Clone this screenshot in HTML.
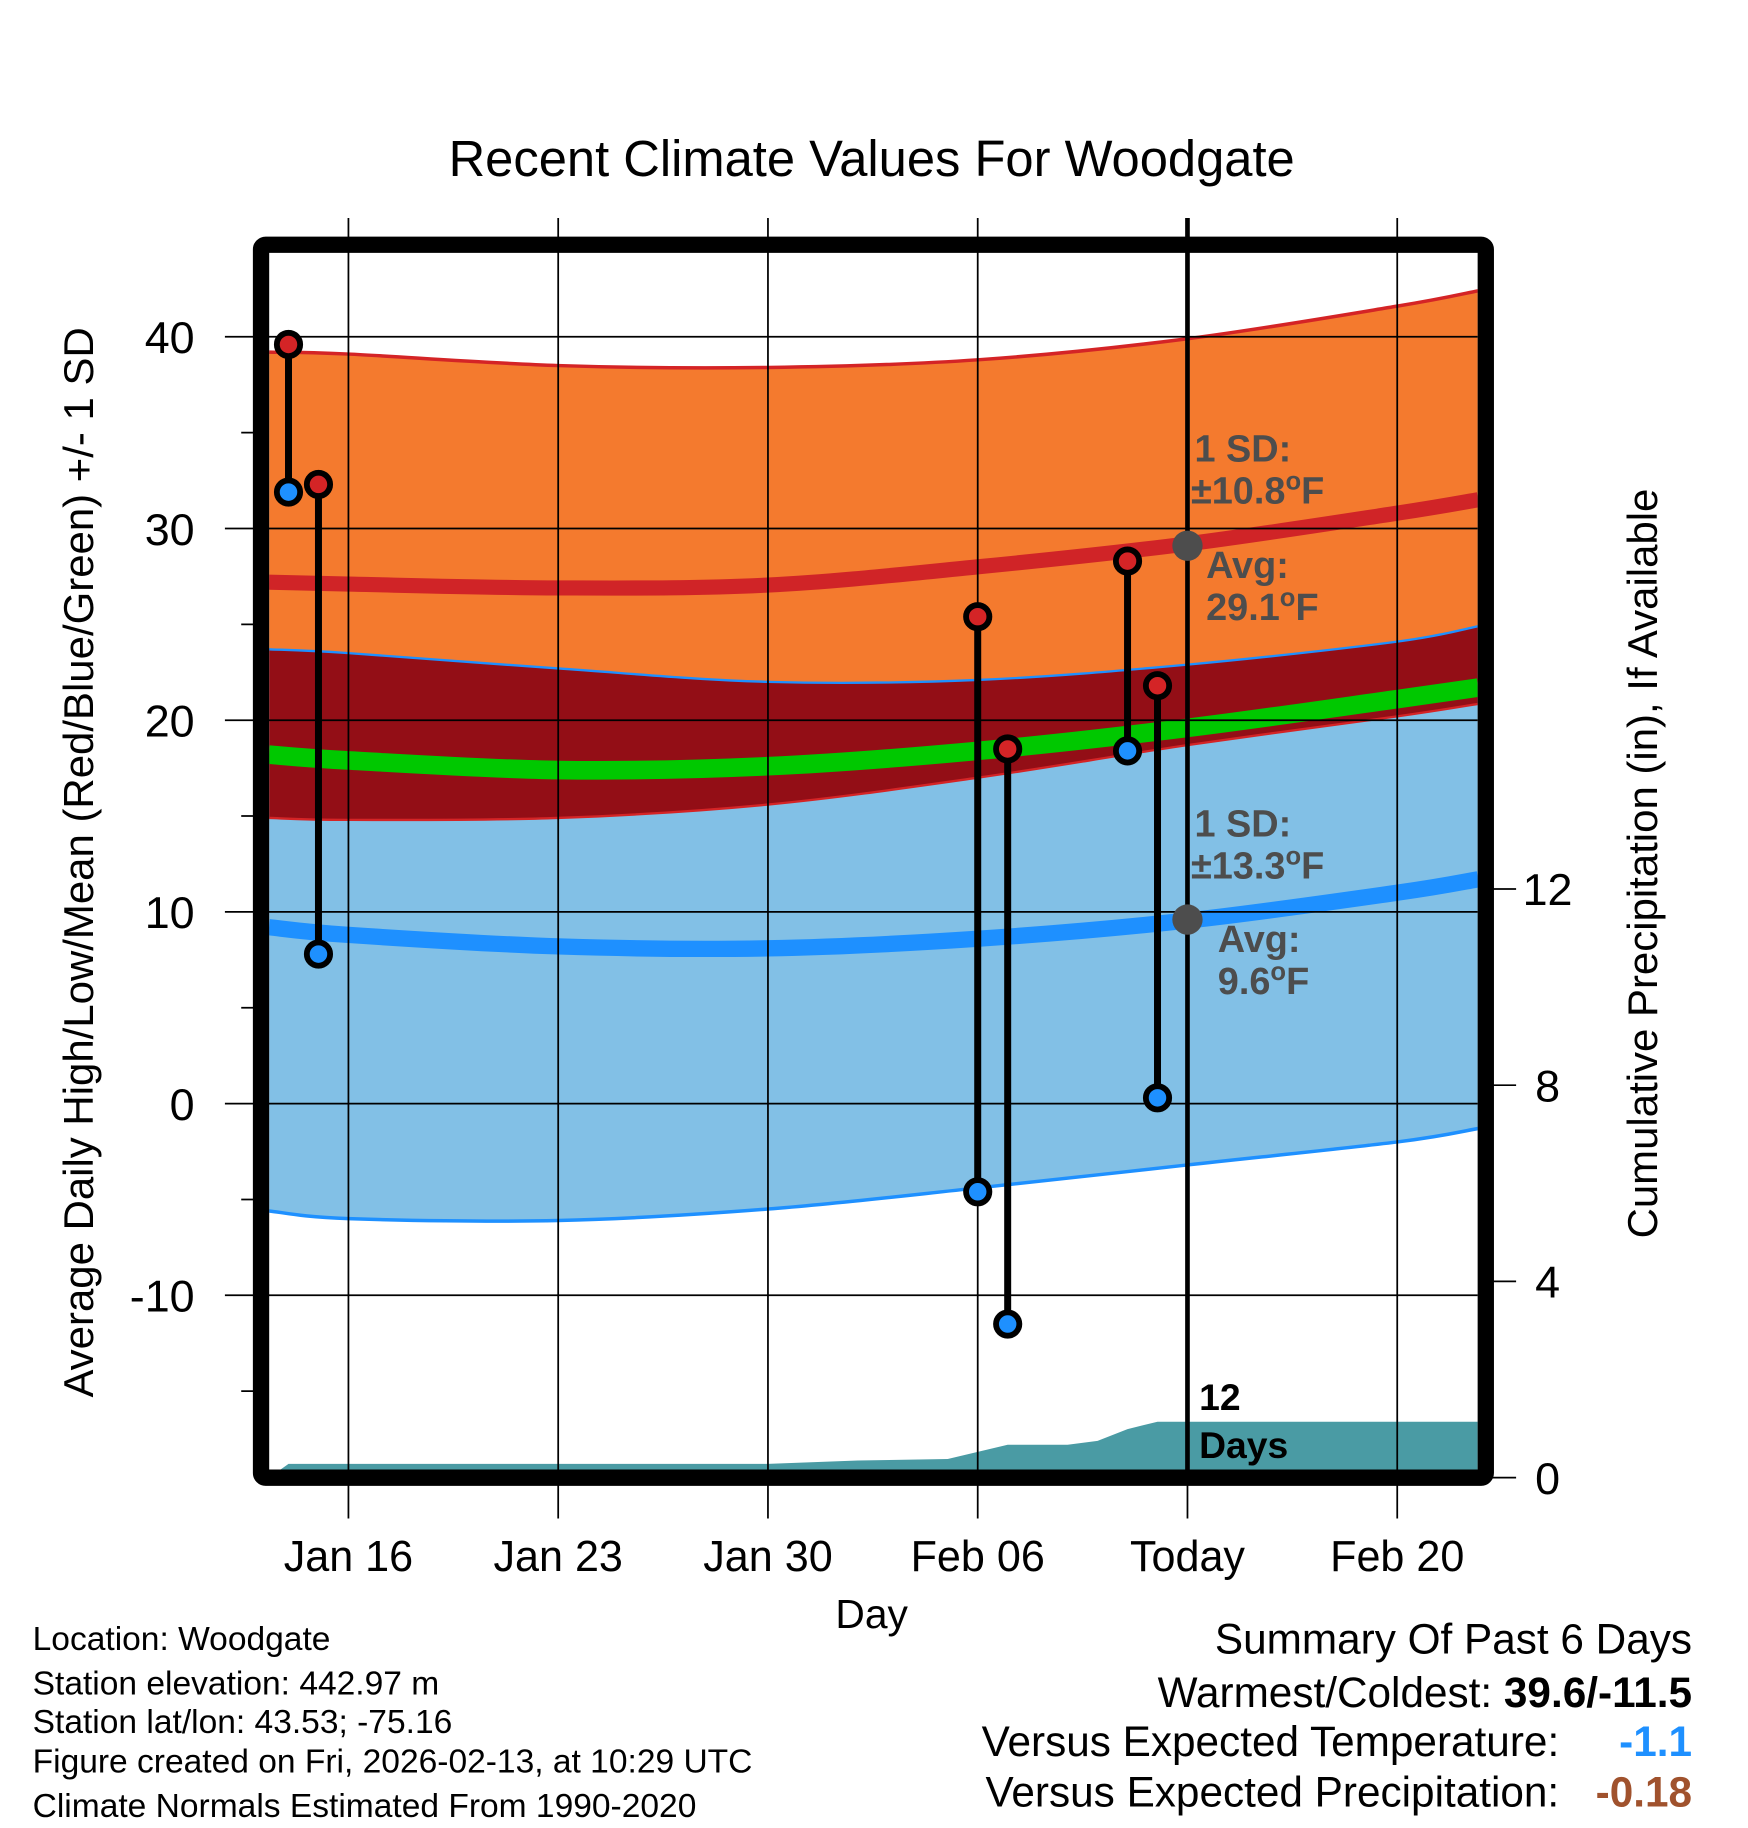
<!DOCTYPE html>
<html><head><meta charset="utf-8"><style>
html,body{margin:0;padding:0;background:#fff}
svg{display:block;font-family:"Liberation Sans",Arial,sans-serif}
</style></head><body>
<svg id="chart" xmlns="http://www.w3.org/2000/svg" width="1748" height="1828" viewBox="0 0 1500 1568.6">
<text x="748" y="151" font-size="43.5" text-anchor="middle">Recent Climate Values For Woodgate</text>
<g id="plot"></g>
<text x="748" y="1397" font-size="35" text-anchor="middle">Day</text>
<text transform="translate(80,740) rotate(-90)" font-size="36" text-anchor="middle">Average Daily High/Low/Mean (Red/Blue/Green) +/- 1 SD</text>
<text transform="translate(1422,741) rotate(-90)" font-size="36" text-anchor="middle">Cumulative Precipitation (in), If Available</text>
<g font-size="28.8">
<text x="28" y="1416">Location: Woodgate</text>
<text x="28" y="1454">Station elevation: 442.97 m</text>
<text x="28" y="1487">Station lat/lon: 43.53; -75.16</text>
<text x="28" y="1521">Figure created on Fri, 2026-02-13, at 10:29 UTC</text>
<text x="28" y="1559">Climate Normals Estimated From 1990-2020</text>
</g>
<g font-size="36.3" text-anchor="end">
<text x="1452" y="1419">Summary Of Past 6 Days</text>
<text x="1452" y="1465">Warmest/Coldest: <tspan font-weight="bold">39.6/-11.5</tspan></text>
<text x="1338" y="1507">Versus Expected Temperature:</text>
<text x="1452" y="1507" fill="#1e90ff" font-weight="bold">-1.1</text>
<text x="1338" y="1550">Versus Expected Precipitation:</text>
<text x="1452" y="1550" fill="#a0522d" font-weight="bold">-0.18</text>
</g>
</svg>
<script>
// days relative to Jan 16
const normDays = [-2.65, 0, 7, 14, 21, 28, 35, 37.7];
const highPlusSD = [39.2, 39.1, 38.5, 38.4, 38.8, 39.9, 41.6, 42.4];
const highAvg = [27.2, 27.1, 26.9, 27.05, 28.0, 29.2, 30.8, 31.5];
const highMinusSD = [23.7, 23.5, 22.7, 22.0, 22.1, 22.9, 24.1, 24.9];
const meanAvg = [18.2, 17.9, 17.4, 17.6, 18.4, 19.6, 21.1, 21.7];
const lowPlusSD = [14.9, 14.8, 14.9, 15.6, 17.0, 18.7, 20.2, 20.85];
const lowAvg = [9.2, 8.8, 8.2, 8.1, 8.6, 9.55, 11.0, 11.7];
const lowMinusSD = [-5.6, -6.0, -6.1, -5.5, -4.4, -3.2, -2.0, -1.3];
const obsDays = [-2, -1, 21, 22, 26, 27];
const obsHigh = [39.6, 32.3, 25.4, 18.5, 28.3, 21.8];
const obsLow = [31.9, 7.8, -4.6, -11.5, 18.4, 0.3];
const precipDays = [-2.65, -2, 14, 17, 20, 22, 24, 25, 26, 27, 37.7];
const precipVals = [0, 0.28, 0.28, 0.35, 0.38, 0.67, 0.67, 0.75, 0.99, 1.14, 1.14];
const xTickDays = [0, 7, 14, 21, 28, 35];
const xTickLabels = ["Jan 16", "Jan 23", "Jan 30", "Feb 06", "Today", "Feb 20"];
const yTicks = [-10, 0, 10, 20, 30, 40];
const y2Ticks = [0, 4, 8, 12];
const todayDay = 28;
const todayHigh = 29.1, todayLow = 9.6;

const L = 231, R = 1268, T = 217, B = 1261;
const X = d => 299 + d * (180 / 7);
const Y = v => 947 - v * 16.45;
const Y2 = p => 1268 - p * 42.1;
const NS = "http://www.w3.org/2000/svg";
const g = document.getElementById('plot');
function mk(tag, at, parent) {
  const e = document.createElementNS(NS, tag);
  for (const k in at) e.setAttribute(k, at[k]);
  (parent || g).appendChild(e);
  return e;
}
function pts(days, vals) { return days.map((d, i) => [X(d), Y(vals[i])]); }
function smooth(p) {
  let s = "M" + p[0][0] + "," + p[0][1];
  for (let i = 0; i < p.length - 1; i++) {
    const p0 = p[Math.max(0, i - 1)], p1 = p[i], p2 = p[i + 1], p3 = p[Math.min(p.length - 1, i + 2)];
    const c1x = p1[0] + (p2[0] - p0[0]) / 6, c1y = p1[1] + (p2[1] - p0[1]) / 6;
    const c2x = p2[0] - (p3[0] - p1[0]) / 6, c2y = p2[1] - (p3[1] - p1[1]) / 6;
    s += " C" + c1x + "," + c1y + " " + c2x + "," + c2y + " " + p2[0] + "," + p2[1];
  }
  return s;
}
function smoothRev(p) { return smooth(p.slice().reverse()).replace(/^M/, "L"); }
const clip = mk('clipPath', { id: 'pc' });
mk('rect', { x: L, y: T, width: R - L, height: B - T }, clip);
const gp = mk('g', { 'clip-path': 'url(#pc)' });
function mk2(tag, at) { return mk(tag, at, gp); }
function band2(top, bot, fill, name) {
  const e = mk2('path', { d: smooth(pts(normDays, top)) + " " + smoothRev(pts(normDays, bot)) + " Z", fill: fill });
  
  
}
function line2(vals, color, w, name) {
  const e = mk2('path', { d: smooth(pts(normDays, vals)), fill: 'none', stroke: color, 'stroke-width': w });
  
  
}
band2(highPlusSD, highMinusSD, '#f47a2e', 'high-sd-band');
band2(lowPlusSD, lowMinusSD, '#82c0e6', 'low-sd-band');
band2(highMinusSD, lowPlusSD, '#930e16', 'overlap-band');
line2(highPlusSD, '#d42426', 3, 'high-plus-sd-line');
line2(highMinusSD, '#1e90ff', 2, 'high-minus-sd-line');
line2(lowPlusSD, '#d42426', 2, 'low-plus-sd-line');
line2(lowMinusSD, '#1e90ff', 3, 'low-minus-sd-line');
line2(highAvg, '#d02427', 13, 'high-avg-line');
line2(meanAvg, '#00c800', 16, 'mean-line');
line2(lowAvg, '#1e90ff', 14, 'low-avg-line');
let pdPath = "M" + X(precipDays[0]) + "," + Y2(0);
precipDays.forEach((dd, i) => { pdPath += " L" + X(dd) + "," + Y2(precipVals[i]); });
pdPath += " L" + X(precipDays[precipDays.length - 1]) + "," + Y2(0) + " Z";
const pa = mk2('path', { d: pdPath, fill: '#4a9ba4' });



xTickDays.forEach((d, i) => {
  const l = mk('line', { x1: X(d), x2: X(d), y1: 187, y2: 1303, stroke: '#000', 'stroke-width': 1.5 });
  
  
  const t = mk('text', { x: X(d), y: 1348, 'font-size': 37, 'text-anchor': 'middle' });
  t.textContent = xTickLabels[i];
  
  
});
yTicks.forEach(v => {
  const l = mk('line', { x1: 193, x2: R, y1: Y(v), y2: Y(v), stroke: '#000', 'stroke-width': 1.5 });
  
  
  const t = mk('text', { x: 167, y: Y(v) + 14, 'font-size': 38.5, 'text-anchor': 'end' });
  t.textContent = v;
  
  
});
[-15, -5, 5, 15, 25, 35].forEach(v => {
  const l = mk('line', { x1: 207, x2: 224, y1: Y(v), y2: Y(v), stroke: '#000', 'stroke-width': 1.5 });
  
  
});
y2Ticks.forEach(p => {
  const l = mk('line', { x1: 1275, x2: 1301, y1: Y2(p), y2: Y2(p), stroke: '#000', 'stroke-width': 1.5 });
  
  
  const t = mk('text', { x: 1328, y: Y2(p) + 14, 'font-size': 38.5, 'text-anchor': 'middle' });
  t.textContent = p;
  
  
});
const tl = mk('line', { x1: X(todayDay), x2: X(todayDay), y1: 187, y2: 1268, stroke: '#000', 'stroke-width': 4 });


obsDays.forEach((d, i) => {
  const s = mk('line', { x1: X(d), x2: X(d), y1: Y(obsHigh[i]), y2: Y(obsLow[i]), stroke: '#000', 'stroke-width': 6 });
  
  
  const h = mk('circle', { cx: X(d), cy: Y(obsHigh[i]), r: 10, fill: '#d42426', stroke: '#000', 'stroke-width': 5 });
  
  
  const lo = mk('circle', { cx: X(d), cy: Y(obsLow[i]), r: 10, fill: '#1e90ff', stroke: '#000', 'stroke-width': 5 });
  
  
});
const d1 = mk('circle', { cx: X(todayDay), cy: Y(todayHigh), r: 13, fill: '#4d4d4d' });


const d2 = mk('circle', { cx: X(todayDay), cy: Y(todayLow), r: 13, fill: '#4d4d4d' });


const box = mk('rect', { x: 224, y: 210, width: 1051, height: 1058, rx: 4, fill: 'none', stroke: '#000', 'stroke-width': 14 });


const ann = mk('g', { fill: '#4d4d4d', 'font-size': 32.5, 'font-weight': 'bold' });


ann.innerHTML =
 '<text x="1025" y="396">1 SD:</text>' +
 '<text x="1022" y="432">±10.8<tspan font-size="22" dy="-12">o</tspan><tspan dy="12">F</tspan></text>' +
 '<text x="1035" y="496">Avg:</text>' +
 '<text x="1035" y="532">29.1<tspan font-size="22" dy="-12">o</tspan><tspan dy="12">F</tspan></text>' +
 '<text x="1025" y="718">1 SD:</text>' +
 '<text x="1022" y="754">±13.3<tspan font-size="22" dy="-12">o</tspan><tspan dy="12">F</tspan></text>' +
 '<text x="1045" y="817">Avg:</text>' +
 '<text x="1045" y="853">9.6<tspan font-size="22" dy="-12">o</tspan><tspan dy="12">F</tspan></text>';
const pd = mk('g', { fill: '#000', 'font-size': 32, 'font-weight': 'bold' });


pd.innerHTML = '<text x="1029" y="1210">12</text><text x="1029" y="1251">Days</text>';
</script>
</body></html>
